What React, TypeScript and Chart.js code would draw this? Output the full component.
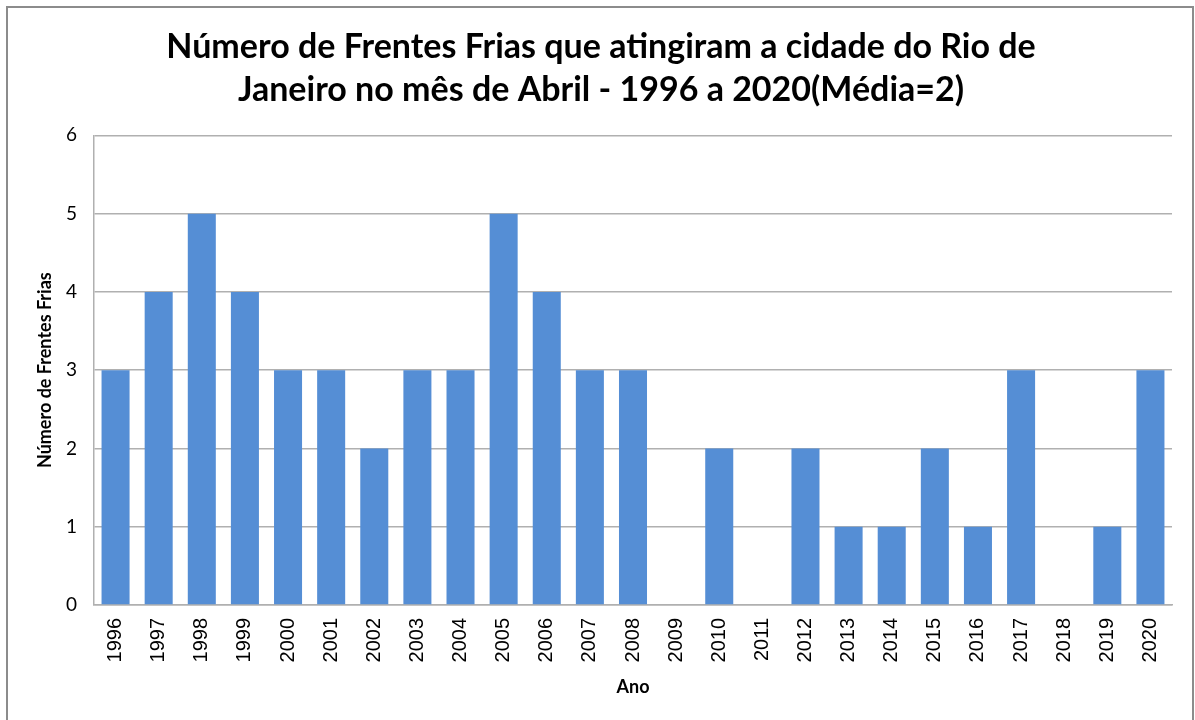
import React, { useEffect, useRef } from "react";
import { Chart, registerables } from "chart.js";

Chart.register(...registerables);

const years: string[] = [
  "1996", "1997", "1998", "1999", "2000", "2001", "2002", "2003", "2004", "2005",
  "2006", "2007", "2008", "2009", "2010", "2011", "2012", "2013", "2014", "2015",
  "2016", "2017", "2018", "2019", "2020",
];
const frentes: number[] = [3, 4, 5, 4, 3, 3, 2, 3, 3, 5, 4, 3, 3, 0, 2, 0, 2, 1, 1, 2, 1, 3, 0, 1, 3];
const titleLines: string[] = [
  "Número de Frentes Frias que atingiram a cidade do Rio de",
  "Janeiro no mês de Abril - 1996 a 2020(Média=2)",
];
const yTitle = "Número de Frentes Frias";
const xTitle = "Ano";

const framePlugin = {
  id: "frame",
  beforeDraw(chart: any) {
    const ctx = chart.ctx;
    ctx.save();
    ctx.fillStyle = "#ffffff";
    ctx.fillRect(0, 0, chart.width, chart.height);
    ctx.strokeStyle = "#8c8c8c";
    ctx.lineWidth = 2;
    ctx.strokeRect(7, 7, 1186, 730);
    ctx.restore();
  },
};

export default function App() {
  const ref = useRef<HTMLCanvasElement | null>(null);
  useEffect(() => {
    if (!ref.current) return;
    const chart = new Chart(ref.current, {
      type: "bar",
      data: {
        labels: years,
        datasets: [
          {
            data: frentes,
            backgroundColor: "#558ed5",
            borderWidth: 0,
            barPercentage: 0.65,
            categoryPercentage: 1,
          },
        ],
      },
      options: {
        animation: false,
        responsive: false,
        devicePixelRatio: 1,
        layout: { padding: { left: 30, right: 23, top: 25, bottom: 22 } },
        plugins: {
          legend: { display: false },
          tooltip: { enabled: false },
          title: {
            display: true,
            text: titleLines,
            color: "#000000",
            font: { family: "Lato", weight: "bold", size: 34, lineHeight: 1.27 },
            padding: { top: 0, bottom: 24 },
          },
        },
        scales: {
          x: {
            afterFit: (scale: any) => {
              scale.height = 93;
            },
            grid: { display: false, drawTicks: false },
            border: { display: true, color: "#b0b0b0", width: 1.5 },
            ticks: {
              minRotation: 90,
              maxRotation: 90,
              autoSkip: false,
              padding: 13,
              color: "#000000",
              font: { family: "Liberation Sans", size: 20 },
            },
            title: {
              display: true,
              text: xTitle,
              color: "#000000",
              font: { family: "Lato", weight: "bold", size: 18 },
              padding: { top: 0, bottom: 0 },
            },
          },
          y: {
            afterFit: (scale: any) => {
              scale.width = 64;
            },
            min: 0,
            max: 6,
            ticks: {
              stepSize: 1,
              padding: 17,
              color: "#000000",
              font: { family: "Lato", size: 19 },
            },
            grid: { color: "#b0b0b0", lineWidth: 1.5, drawTicks: false },
            border: { display: true, color: "#b0b0b0", width: 1.5 },
            title: {
              display: true,
              text: yTitle,
              color: "#000000",
              font: { family: "Lato", weight: "bold", size: 18 },
              padding: { top: 4, bottom: 0 },
            },
          },
        },
      },
      plugins: [framePlugin],
    });
    return () => chart.destroy();
  }, []);
  return (
    <div style={{ position: "absolute", left: 0, top: 0, width: 1195, height: 720 }}>
      <canvas ref={ref} width={1195} height={720} style={{ display: "block" }} />
    </div>
  );
}
